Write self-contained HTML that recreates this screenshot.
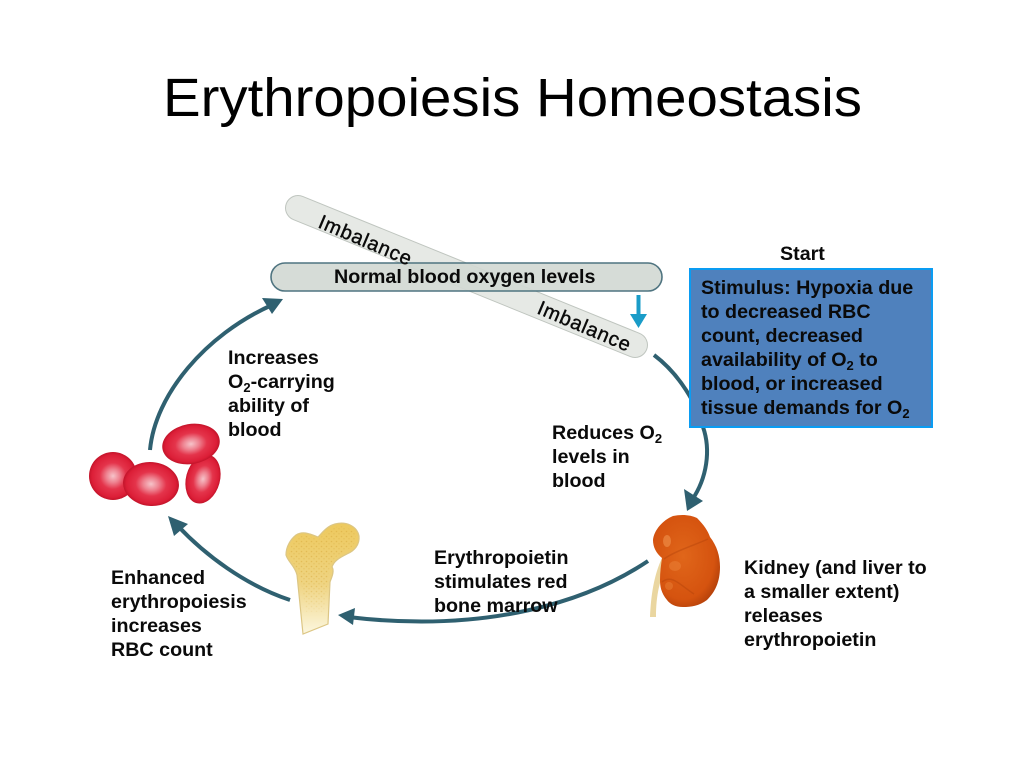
<!DOCTYPE html>
<html>
<head>
<meta charset="utf-8">
<style>
html,body{margin:0;padding:0;background:#fff;width:1024px;height:768px;overflow:hidden}
svg{display:block}
text{font-family:"Liberation Sans",sans-serif;fill:#0a0a0a}
.b{font-size:19.7px;font-weight:bold}
.s{font-size:13px}
</style>
</head>
<body>
<svg width="1024" height="768" viewBox="0 0 1024 768" xmlns="http://www.w3.org/2000/svg">
<defs>
<radialGradient id="rc"><stop offset="0" stop-color="#f6c4ca"/><stop offset=".28" stop-color="#ee8290"/><stop offset=".55" stop-color="#e4344b"/><stop offset=".88" stop-color="#dc1e37"/><stop offset="1" stop-color="#c2142a"/></radialGradient>
<linearGradient id="bone" x1="0" y1="0" x2="0" y2="1"><stop offset="0" stop-color="#edc95e"/><stop offset=".55" stop-color="#efd482"/><stop offset="1" stop-color="#fcf7df"/></linearGradient>
<radialGradient id="kid" cx=".45" cy=".45" r=".65"><stop offset="0" stop-color="#e0661a"/><stop offset=".72" stop-color="#d5530f"/><stop offset="1" stop-color="#a93a08"/></radialGradient>
<pattern id="sp" width="5" height="5" patternUnits="userSpaceOnUse"><circle cx="1.500" cy="1.500" r=".8" fill="#d8a93c"/><circle cx="4" cy="3.800" r=".7" fill="#dcb24a"/></pattern>
<linearGradient id="fade" x1="0" y1="0" x2="0" y2="1"><stop offset="0" stop-color="#fff"/><stop offset=".6" stop-color="#fff"/><stop offset="1" stop-color="#000"/></linearGradient>
<mask id="m"><rect x="280" y="520" width="85" height="100" fill="url(#fade)"/></mask>
</defs>

<text x="163" y="116" font-size="54" textLength="699" lengthAdjust="spacingAndGlyphs" style="fill:#000">Erythropoiesis Homeostasis</text>

<!-- imbalance bar -->
<line x1="298" y1="208" x2="635" y2="345" stroke="#bfc5bf" stroke-width="26" stroke-linecap="round"/>
<line x1="298" y1="208" x2="635" y2="345" stroke="#e6e9e5" stroke-width="24" stroke-linecap="round"/>
<!-- normal bar -->
<rect x="271" y="263" width="391" height="28" rx="14" fill="#d3d9d4" fill-opacity=".92" stroke="#4f7480" stroke-width="1.6"/>
<text class="b" x="334" y="283">Normal blood oxygen levels</text>
<text transform="translate(317,227) rotate(23)" font-size="20" textLength="99" stroke="#0a0a0a" stroke-width=".4">Imbalance</text>
<text transform="translate(536,313) rotate(23)" font-size="20" textLength="99" stroke="#0a0a0a" stroke-width=".4">Imbalance</text>

<!-- small blue arrow -->
<rect x="636.500" y="295" width="4" height="22" fill="#1a9cc8"/>
<polygon points="630,314 647,314 638.500,328" fill="#1a9cc8"/>

<!-- cycle arrows -->
<g fill="none" stroke="#2f6070" stroke-width="4">
<path d="M150 450 C155 395 205 335 272 305"/>
<path d="M654 355 C670 367 682 382 692 400"/>
<path d="M703 427 C711 450 707 478 692 500"/>
<path d="M648 561 C590 600 490 634 348 617"/>
<path d="M290 600 C245 585 205 555 177 525"/>
</g>
<g fill="#2f6070">
<polygon points="283,299 262,298 272,314"/>
<polygon points="687,511 684,489 703,501"/>
<polygon points="338,615 355,608 353,625"/>
<polygon points="168,516 188,524 174,536"/>
</g>

<!-- blue box -->
<rect x="690" y="269" width="242" height="158" fill="#4f81bd" stroke="#0a9cf2" stroke-width="2"/>
<text class="b" x="780" y="260">Start</text>
<text class="b" x="701" y="294">Stimulus: Hypoxia due</text>
<text class="b" x="701" y="318">to decreased RBC</text>
<text class="b" x="701" y="342">count, decreased</text>
<text class="b" x="701" y="366">availability of O<tspan class="s" dy="4">2</tspan><tspan dy="-4"> to</tspan></text>
<text class="b" x="701" y="390">blood, or increased</text>
<text class="b" x="701" y="414">tissue demands for O<tspan class="s" dy="4">2</tspan></text>

<text class="b" x="228" y="364">Increases</text>
<text class="b" x="228" y="388">O<tspan class="s" dy="4">2</tspan><tspan dy="-4">-carrying</tspan></text>
<text class="b" x="228" y="412">ability of</text>
<text class="b" x="228" y="436">blood</text>

<text class="b" x="552" y="439">Reduces O<tspan class="s" dy="4">2</tspan></text>
<text class="b" x="552" y="463">levels in</text>
<text class="b" x="552" y="487">blood</text>

<text class="b" x="434" y="564">Erythropoietin</text>
<text class="b" x="434" y="588">stimulates red</text>
<text class="b" x="434" y="612">bone marrow</text>

<text class="b" x="111" y="584">Enhanced</text>
<text class="b" x="111" y="608">erythropoiesis</text>
<text class="b" x="111" y="632">increases</text>
<text class="b" x="111" y="656">RBC count</text>

<text class="b" x="744" y="574">Kidney (and liver to</text>
<text class="b" x="744" y="598">a smaller extent)</text>
<text class="b" x="744" y="622">releases</text>
<text class="b" x="744" y="646">erythropoietin</text>

<!-- red cells -->
<ellipse cx="113" cy="476" rx="24" ry="24" fill="url(#rc)"/>
<ellipse cx="203" cy="479" rx="17" ry="25" transform="rotate(15 203 479)" fill="url(#rc)"/>
<ellipse cx="191" cy="444" rx="29" ry="20" transform="rotate(-10 191 444)" fill="url(#rc)"/>
<ellipse cx="151" cy="484" rx="28" ry="22" transform="rotate(5 151 484)" fill="url(#rc)"/>

<!-- bone -->
<path d="M303 634 L297 575 C295 566 288 562 286 555 C286 546 291 539 296 535 C302 531 308 533 318 537 C322 533 327 526 335 524 C346 521 357 526 359 536 C360 545 354 551 347 554 C339 558 334 561 332 567 C335 571 331 579 330 582 L328 624 Z" fill="url(#bone)" stroke="#dcc684" stroke-width="1.200"/>
<path d="M300 575 C296 566 290 560 289 555 C290 546 294 541 298 538 C304 534 310 536 318 540 C322 536 329 529 336 527 C346 525 354 530 356 537 C356 544 350 549 345 551 C337 555 331 560 329 570 C327 585 325 600 324 612 L306 612 Z" fill="url(#sp)" opacity=".5" mask="url(#m)"/>

<!-- kidney -->
<path d="M662 558 C654 575 651 595 650 617 L656 617 C656 595 660 578 667 566 Z" fill="#ead6a0"/>
<path d="M673 516 C682 514 691 515 697 518 C704 525 708 531 710 537 C717 546 720 556 720 567 C720 582 715 592 707 600 C699 606 691 607 683 607 C675 607 670 604 667 600 C661 593 660 586 660 580 C660 572 661 565 662 558 C656 553 653 547 653 540 C654 530 663 520 673 516 Z" fill="url(#kid)"/>
<path d="M664 559 C675 551 695 545 708 539" fill="none" stroke="#a83c08" stroke-width="1.500" opacity=".35"/>
<path d="M662 582 C672 574 680 585 694 594" fill="none" stroke="#a83c08" stroke-width="1.500" opacity=".35"/>
<ellipse cx="667" cy="541" rx="4" ry="6" fill="#f0934c" opacity=".6"/>
<ellipse cx="675" cy="566" rx="6" ry="5" fill="#ea7f36" opacity=".55"/>
<ellipse cx="669" cy="586" rx="4" ry="4" fill="#ea7f36" opacity=".5"/>
</svg>
</body>
</html>
